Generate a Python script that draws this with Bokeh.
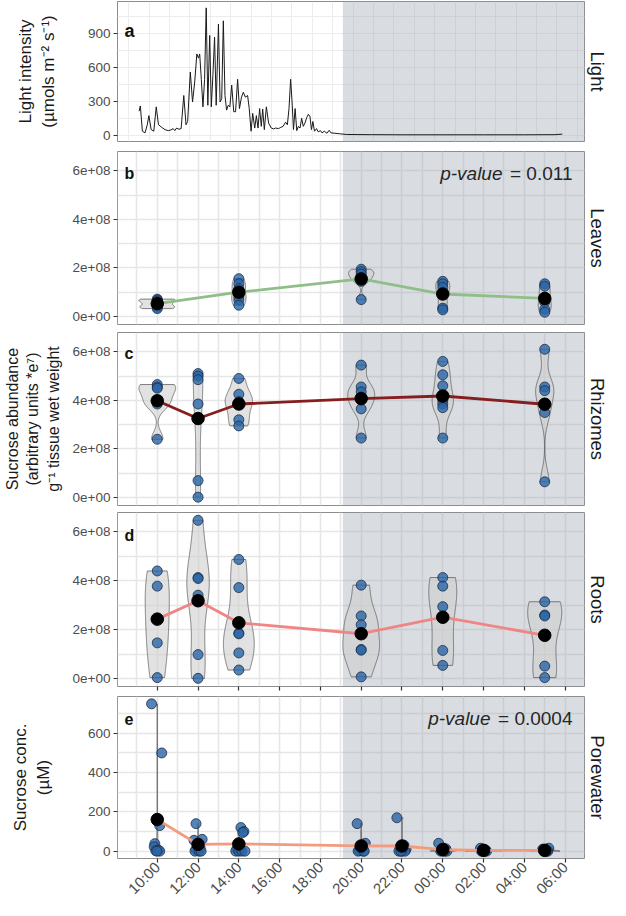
from math import pi
import numpy as np
from bokeh.plotting import figure
from bokeh.layouts import column
from bokeh.models import Range1d, FixedTicker, Label, LinearAxis
from bokeh.embed import file_html
from bokeh.resources import INLINE

FONT = "Liberation Sans"

# ---------------- data (x in hours after midnight of day 1) ----------------
night_start = 19.1
x_ticks = [10, 12, 14, 16, 18, 20, 22, 24, 26, 28, 30]
x_tick_labels = ["10:00", "12:00", "14:00", "16:00", "18:00", "20:00",
                 "22:00", "00:00", "02:00", "04:00", "06:00"]

light_hours = [9.11, 9.17, 9.27, 9.40, 9.51, 9.59, 9.70, 9.83, 9.95, 10.06,
               10.22, 10.38, 10.54, 10.67, 10.78, 10.86, 10.95, 11.06, 11.17, 11.30,
               11.41, 11.49, 11.62, 11.73, 11.84, 11.94, 12.02, 12.08, 12.16, 12.24,
               12.32, 12.40, 12.48, 12.57, 12.65, 12.73, 12.81, 12.89, 13.00, 13.08,
               13.16, 13.24, 13.32, 13.40, 13.48, 13.56, 13.65, 13.75, 13.84, 13.94,
               14.03, 14.13, 14.22, 14.32, 14.43, 14.51, 14.60, 14.68, 14.78, 14.86,
               14.94, 15.02, 15.10, 15.17, 15.25, 15.35, 15.46, 15.59, 15.70, 15.81,
               15.94, 16.06, 16.17, 16.29, 16.38, 16.46, 16.54, 16.62, 16.68, 16.76,
               16.84, 16.92, 17.00, 17.08, 17.16, 17.24, 17.33, 17.41, 17.49, 17.56,
               17.63, 17.71, 17.81, 17.89, 18.00, 18.08, 18.19, 18.32, 18.43, 18.52,
               18.71, 18.95, 19.27, 19.8, 20.5, 22.0, 24.0, 26.0, 28.0, 29.5, 29.86]
light_values = [213, 259, 35, 20, 92, 173, 49, 35, 251, 92,
                69, 49, 40, 46, 58, 40, 63, 52, 58, 352,
                92, 121, 560, 294, 481, 721, 684, 721, 496, 251,
                496, 1130, 265, 885, 251, 539, 871, 265, 986, 294,
                323, 1015, 352, 222, 265, 251, 444, 208, 208, 496,
                236, 337, 381, 337, 352, 236, 35, 193, 63, 173,
                63, 236, 78, 231, 49, 251, 107, 63, 55, 63,
                58, 69, 78, 115, 92, 236, 496, 265, 49, 236,
                40, 78, 63, 150, 78, 107, 156, 185, 164, 49,
                121, 35, 58, 29, 40, 20, 35, 17, 43, 20,
                17, 12, 6, 5, 4, 3, 3, 3, 3, 4, 9]

leaves_times = [10, 14, 20, 24, 29]
leaves_values = [[0.72e8, 0.68e8, 0.63e8, 0.45e8, 0.38e8, 0.33e8],
                 [1.56e8, 1.35e8, 1.15e8, 0.81e8, 0.68e8, 0.47e8],
                 [1.95e8, 1.85e8, 1.75e8, 1.60e8, 1.45e8, 0.70e8],
                 [1.45e8, 1.35e8, 1.20e8, 0.95e8, 0.35e8, 0.28e8],
                 [1.35e8, 1.25e8, 0.80e8, 0.60e8, 0.30e8, 0.18e8]]

rhizome_times = [10, 12, 14, 20, 24, 29]
rhizome_values = [[4.65e8, 4.55e8, 4.50e8, 3.95e8, 3.85e8, 2.40e8],
                  [5.10e8, 5.00e8, 4.85e8, 3.85e8, 0.70e8, 0.02e8],
                  [4.90e8, 4.25e8, 3.95e8, 3.85e8, 3.20e8, 2.95e8],
                  [5.45e8, 4.55e8, 4.35e8, 4.00e8, 3.65e8, 2.45e8],
                  [5.60e8, 5.05e8, 4.60e8, 4.00e8, 3.85e8, 3.70e8, 2.45e8],
                  [6.10e8, 4.55e8, 4.40e8, 3.50e8, 0.65e8]]

root_times = [10, 12, 14, 20, 24, 29]
root_values = [[4.40e8, 3.78e8, 2.47e8, 1.46e8, 0.04e8],
               [6.47e8, 4.13e8, 4.09e8, 3.41e8, 0.98e8, 0.01e8],
               [4.87e8, 3.72e8, 1.86e8, 1.83e8, 1.05e8, 0.35e8],
               [3.82e8, 2.56e8, 2.20e8, 1.19e8, 1.16e8, 0.07e8],
               [4.13e8, 3.78e8, 2.94e8, 1.15e8, 0.54e8],
               [3.14e8, 2.60e8, 2.56e8, 0.51e8, 0.04e8]]

pore_times = [10, 12, 14, 20, 22, 24, 26, 29]
pore_values = [[750, 500, 130, 38, 22, 6, 2, 0, 0],
               [140, 55, 60, 30, 18, 8, 0, 0, 0],
               [120, 100, 95, 10, 5, 0, 0, 0, 0],
               [140, 40, 20, 8, 3, 0, 0, 0],
               [170, 30, 20, 10, 5, 0, 0, 0, 0],
               [40, 12, 5, 0, 0, 0, 0],
               [15, 6, 3, 0, 0, 0],
               [15, 10, 4, 0, 0, 0, 0]]
pore_x = [[9.72, 10.22, 10.12, 9.88, 9.85, 10.05, 9.93, 10.12, 9.98],
          [11.9, 11.8, 12.2, 12.0, 12.1, 11.9, 11.85, 12.05, 12.15],
          [14.1, 14.25, 14.2, 13.9, 14.05, 13.85, 14.0, 14.15, 14.3],
          [19.8, 20.2, 20.05, 19.95, 19.9, 20.1, 19.85, 20.15],
          [21.75, 22.1, 21.9, 22.2, 22.05, 21.85, 22.0, 22.15, 21.95],
          [23.8, 24.15, 23.95, 24.05, 23.9, 24.2, 24.1],
          [25.85, 26.1, 25.95, 26.05, 26.15, 25.9],
          [29.2, 28.9, 29.05, 29.1, 28.95, 29.15, 29.0]]

# ---------------- styling ----------------
X0, X1 = 8.05, 30.95
W = 610
ML, MR = 114, 26
SHADE = "#9aa6b2"
BORDER = "#8c8c8c"
GRID = "#e6e6e6"
PT_FILL = "#2b65a6"
PT_LINE = "#1c2f48"


def base(frame_h, top, bottom, y0, y1):
    p = figure(width=W, height=frame_h + top + bottom,
               x_range=Range1d(X0, X1), y_range=Range1d(y0, y1),
               min_border_left=ML, min_border_right=MR,
               min_border_top=top, min_border_bottom=bottom,
               output_backend="svg", toolbar_location=None)
    p.outline_line_color = BORDER
    p.outline_line_width = 1
    p.background_fill_color = "white"
    p.border_fill_color = "white"
    for ax in (p.xaxis, p.yaxis):
        ax.axis_line_color = None
        ax.major_tick_line_color = "#333333"
        ax.major_tick_line_width = 1.2
        ax.major_tick_in = 0
        ax.major_tick_out = 4
        ax.minor_tick_line_color = None
        ax.major_label_text_font = FONT
        ax.major_label_text_color = "#4d4d4d"
        ax.axis_label_text_font = FONT
        ax.axis_label_text_font_style = "normal"
        ax.axis_label_text_color = "#1a1a1a"
        ax.axis_label_text_font_size = "17px"
    p.yaxis.major_label_text_font_size = "13.5px"
    p.yaxis.major_label_standoff = 3
    p.xaxis.ticker = FixedTicker(ticks=x_ticks)
    p.xgrid.ticker = FixedTicker(ticks=list(range(8, 31)))
    p.xgrid.grid_line_color = GRID
    p.ygrid.grid_line_color = GRID
    p.xgrid.grid_line_width = 1.6
    p.ygrid.grid_line_width = 1.6
    p.quad(left=[night_start], right=[X1 + 1], bottom=[y0], top=[y1],
           fill_color=SHADE, fill_alpha=0.38, line_color=None)
    return p


def strip(p, text):
    ax = LinearAxis(ticker=FixedTicker(ticks=[]), axis_label=text,
                    axis_line_color=None, major_tick_line_color=None,
                    minor_tick_line_color=None, axis_label_standoff=2,
                    axis_label_text_font=FONT, axis_label_text_font_size="18.5px",
                    axis_label_text_font_style="normal", axis_label_text_color="#1a1a1a")
    p.add_layout(ax, "right")


def tag(p, text, y1, dy, size="16px"):
    p.add_layout(Label(x=X0, y=y1, x_offset=7, y_offset=-dy, text=text,
                       text_font=FONT, text_font_style="bold", text_font_size=size,
                       text_color="#111111", text_baseline="alphabetic"))


def pvalue(p, y1, num, num_w):
    p.add_layout(Label(x=X1, y=y1, x_offset=-12, y_offset=-22, text="= " + num,
                       text_align="right", text_font=FONT, text_font_size="19px",
                       text_color="#262626", text_baseline="alphabetic"))
    p.add_layout(Label(x=X1, y=y1, x_offset=-12 - num_w, y_offset=-22, text="p-value",
                       text_align="right", text_font=FONT, text_font_size="19px",
                       text_font_style="italic", text_color="#262626",
                       text_baseline="alphabetic"))


def kde(vals, n=256):
    v = np.asarray(vals, float)
    sd = v.std(ddof=1)
    q75, q25 = np.percentile(v, [75, 25])
    lo = min(sd, (q75 - q25) / 1.34)
    if lo <= 0:
        lo = sd if sd > 0 else 1.0
    bw = 0.9 * lo * len(v) ** -0.2
    ys = np.linspace(v.min(), v.max(), n)
    d = np.exp(-0.5 * ((ys[:, None] - v[None, :]) / bw) ** 2).sum(1) / (len(v) * bw * np.sqrt(2 * pi))
    return ys, d


def violins(p, times, values, half=0.9):
    dens = [kde(v) for v in values]
    mx = max(d.max() for _, d in dens)
    xs, ys = [], []
    for t, (yy, d) in zip(times, dens):
        w = d / mx * half
        xs.append(np.concatenate([t + w, (t - w)[::-1]]))
        ys.append(np.concatenate([yy, yy[::-1]]))
    p.patches(xs, ys, fill_color="#cfcfcf", fill_alpha=0.6,
              line_color="#4d4d4d", line_width=0.7)


def points_and_means(p, times, values, color, xs=None):
    px, py = [], []
    for i, (t, v) in enumerate(zip(times, values)):
        px += list(xs[i]) if xs is not None else [t] * len(v)
        py += list(v)
    p.scatter(px, py, size=10, fill_color=PT_FILL, fill_alpha=0.8,
              line_color=PT_LINE, line_width=0.8)
    means = [float(np.mean(v)) for v in values]
    p.line(times, means, line_color=color, line_width=2.8)
    p.scatter(times, means, size=12.5, fill_color="black", line_color="black")


# ---------------- panel a: light ----------------
LA0, LA1 = -56.5, 1186.5
pa = base(140, 1, 5, LA0, LA1)
pa.xaxis.visible = False
pa.xgrid.ticker = FixedTicker(ticks=[h + 0.6 for h in range(7, 31)])
pa.ygrid.ticker = FixedTicker(ticks=[0, 150, 300, 450, 600, 750, 900, 1050])
pa.xgrid.grid_line_width = 1
pa.ygrid.grid_line_width = 1
pa.xgrid.grid_line_color = "#ececec"
pa.ygrid.grid_line_color = "#ececec"
pa.yaxis.ticker = FixedTicker(ticks=[0, 300, 600, 900])
pa.yaxis[0].axis_label = "Light intensity\n(\u00b5mols m\u207b\u00b2 s\u207b\u00b9)"
pa.yaxis[0].axis_label_standoff = 27
pa.line(light_hours, light_values, line_color="#1a1a1a", line_width=1)
strip(pa, "Light")
tag(pa, "a", LA1, 29, "18px")

# ---------------- panels b-d ----------------
S0, S1 = -0.3235e8, 6.79e8
s_ticks = [0, 2e8, 4e8, 6e8]
s_labels = {0: "0e+00", 200000000: "2e+08", 400000000: "4e+08", 600000000: "6e+08"}


def sucrose_panel(frame_h, top, bottom):
    p = base(frame_h, top, bottom, S0, S1)
    p.yaxis.ticker = FixedTicker(ticks=s_ticks)
    p.yaxis.major_label_overrides = s_labels
    p.ygrid.ticker = FixedTicker(ticks=[i * 1e8 for i in range(0, 7)])
    return p


pb = sucrose_panel(173, 5, 4)
pb.xaxis.visible = False
violins(pb, leaves_times, leaves_values)
points_and_means(pb, leaves_times, leaves_values, "#8fbf88")
strip(pb, "Leaves")
tag(pb, "b", S1, 22)
pvalue(pb, S1, "0.011", 70)

pc = sucrose_panel(173, 4, 3)
pc.xaxis.visible = False
pc.yaxis[0].axis_label = "Sucrose abundance\n(arbitrary units *e\u2077)\ng\u207b\u00b9 tissue wet weight"
pc.yaxis[0].axis_label_text_font_size = "16px"
pc.yaxis[0].axis_label_standoff = 8
violins(pc, rhizome_times, rhizome_values)
points_and_means(pc, rhizome_times, rhizome_values, "#861d1f")
strip(pc, "Rhizomes")
tag(pc, "c", S1, 21)

pd = sucrose_panel(174, 4, 10)
pd.xaxis.major_label_overrides = {t: "" for t in x_ticks}
pd.xaxis.major_label_standoff = 0
violins(pd, root_times, root_values)
points_and_means(pd, root_times, root_values, "#ef8585")
strip(pd, "Roots")
tag(pd, "d", S1, 23)

# ---------------- panel e: porewater ----------------
E0, E1 = -37.5, 787.5
pe = base(164, 0, 46, E0, E1)
pe.yaxis.ticker = FixedTicker(ticks=[0, 200, 400, 600])
pe.ygrid.ticker = FixedTicker(ticks=[0, 100, 200, 300, 400, 500, 600, 700])
pe.xaxis.major_label_overrides = dict(zip(x_ticks, x_tick_labels))
pe.xaxis.major_label_orientation = pi / 4
pe.xaxis.major_label_text_font_size = "15px"
pe.xaxis.major_label_standoff = 2
pe.yaxis[0].axis_label = "Sucrose conc.\n(\u00b5M)"
pe.yaxis[0].axis_label_standoff = 32
violins(pe, pore_times, pore_values)
points_and_means(pe, pore_times, pore_values, "#f19c80", xs=pore_x)
strip(pe, "Porewater")
tag(pe, "e", E1, 22)
pvalue(pe, E1, "0.0004", 82)

layout = column(pa, pb, pc, pd, pe, spacing=0)
open("out.html", "w").write(file_html(layout, INLINE))
